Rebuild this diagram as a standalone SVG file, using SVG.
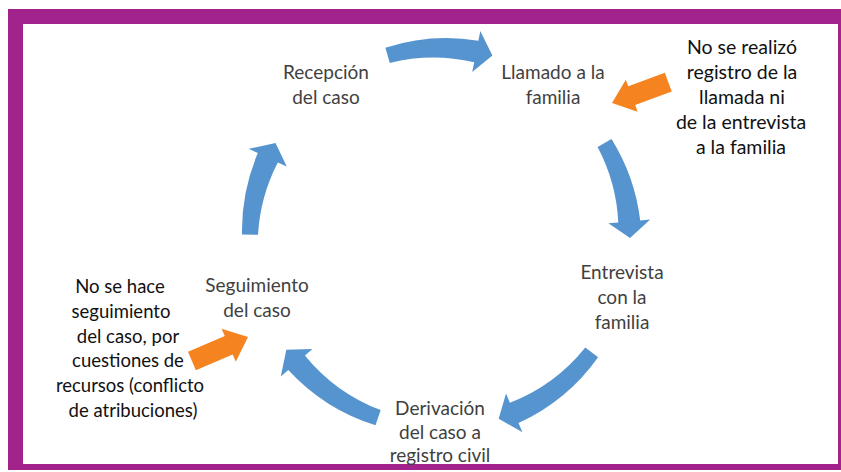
<svg xmlns="http://www.w3.org/2000/svg" width="841" height="472" viewBox="0 0 841 472">
<style>
.node{font-family:Lato,"Open Sans","Liberation Sans",sans-serif;font-size:19px;fill:#3f3f3f;text-anchor:middle}
.note{font-family:Lato,"Liberation Sans",sans-serif;font-size:19.5px;fill:#111;text-anchor:middle}
.notel{font-family:Lato,"Liberation Sans",sans-serif;font-size:18.5px;fill:#111;text-anchor:middle}
.cyc{fill:#5694cf}
.ora{fill:#f58420}
</style>
<rect x="0" y="0" width="841" height="472" fill="#fff"/>
<rect x="8" y="9" width="833" height="461" fill="#a2238b"/>
<rect x="23" y="24" width="815" height="440" fill="#fff"/>
<g id="connectors">
<path class="cyc" d="M385.4,47.7 A199,199 0 0 1 478.4,40.7 L480.3,30.9 L492.4,55.4 L472.2,72.1 L474.2,62.3 A180,180 0 0 0 389.8,63.0 Z"/>
<path class="cyc" d="M611.5,139 A199,199 0 0 1 640.2,220.5 L650.2,219.6 L630,238 L608.4,223.3 L618.3,222.4 A180,180 0 0 0 597.6,147 Z"/>
<path class="cyc" d="M598.1,357.2 A199,199 0 0 1 518.5,423.0 L522.4,432.2 L498.7,418.7 L506.0,393.6 L509.9,402.8 A180,180 0 0 0 585.3,347.5 Z"/>
<path class="cyc" d="M375.5,425.2 A199,199 0 0 1 288.3,369.9 L280.8,376.4 L286.3,349.7 L312.5,348.9 L304.9,355.4 A180,180 0 0 0 380.7,410.1 Z"/>
<path class="cyc" d="M242.0,234.5 A199,199 0 0 1 257.8,153.1 L248.8,148.8 L275.5,143 L286.8,166.6 L277.8,162.4 A180,180 0 0 0 258.0,234.8 Z"/>
<path class="ora" transform="translate(612,103) rotate(159.7)" d="M0,0 L-21,-17 L-21,-10 L-60,-10 L-60,10 L-21,10 L-21,17 Z"/>
<path class="ora" transform="translate(248,337) rotate(-23.2)" d="M0,0 L-21,-18 L-21,-10 L-61,-10 L-61,10 L-21,10 L-21,18 Z"/>
</g>
<g id="n-recepcion"><text class="node" x="326" y="79">Recepción</text><text class="node" x="326" y="104">del caso</text></g>
<g id="n-llamado"><text class="node" x="553" y="79">Llamado a la</text><text class="node" x="553" y="104">familia</text></g>
<g id="n-entrevista"><text class="node" x="622" y="279">Entrevista</text><text class="node" x="622" y="304">con la</text><text class="node" x="622" y="329">familia</text></g>
<g id="n-derivacion"><text class="node" x="440" y="415">Derivación</text><text class="node" x="440" y="439">del caso a</text><text class="node" x="440" y="462">registro civil</text></g>
<g id="n-seguimiento"><text class="node" x="257" y="292">Seguimiento</text><text class="node" x="257" y="317">del caso</text></g>
<g id="note-right"><text class="note" x="742" y="54">No se realizó</text><text class="note" x="742" y="79">registro de la</text><text class="note" x="742" y="104">llamada ni</text><text class="note" x="741" y="129">de la entrevista</text><text class="note" x="741" y="154">a la familia</text></g>
<g id="note-left"><text class="notel" x="120" y="293">No se hace</text><text class="notel" x="121" y="318">seguimiento</text><text class="notel" x="128" y="343">del caso, por</text><text class="notel" x="128" y="367">cuestiones de</text><text class="notel" x="130" y="392">recursos (conflicto</text><text class="notel" x="133" y="417">de atribuciones)</text></g>
</svg>
